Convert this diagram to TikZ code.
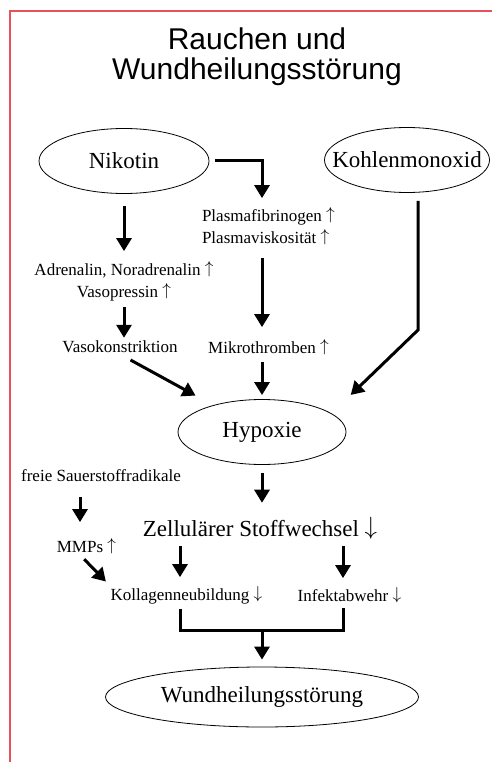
\documentclass[tikz,border=0pt]{standalone}
\usepackage{fontspec}
\setmainfont{Liberation Serif}
\newfontfamily\titlefont{Liberation Sans}
\usetikzlibrary{shapes, arrows.meta, positioning}
\definecolor{framered}{RGB}{232,80,90}
\newcommand{\pfeilauf}{\raisebox{0.1em}{$\uparrow$}}
\newcommand{\pfeilab}{\raisebox{0.1em}{$\downarrow$}}
\newcommand{\hoch}{\rlap{~\pfeilauf}}
\newcommand{\runter}{\rlap{~\pfeilab}}

\begin{document}
\begin{tikzpicture}[x=1pt, y=-1pt, >={Triangle[width=15pt, length=13pt]}]

\tikzstyle{oval} = [draw, shape=ellipse, line width=0.8pt, inner sep=0pt, minimum height=65pt, font=\fontsize{23}{27}\selectfont]
\tikzstyle{txt} = [inner sep=1pt, font=\fontsize{17}{22}\selectfont]
\tikzstyle{flow} = [->, line width=3pt]

\useasboundingbox (0,0) rectangle (492,762);
\draw[framered, line width=1.5pt] (10,762) -- (10,11) -- (492,11);

%Title
\node[align=center, font=\titlefont\fontsize{30}{30}\selectfont] (title) at (257,57) {Rauchen und\\Wundheilungsstörung};

%Creating Ovals and Text Nodes
\node[oval, minimum width=170pt] (nik) at (124,161) {Nikotin};
\node[oval, minimum width=165pt] (co) at (407,160) {\makebox[0pt]{Kohlenmonoxid}};
\node[oval, minimum width=168pt] (hyp) at (262,432) {Hypoxie};
\node[oval, minimum width=313pt, minimum height=60pt] (wund) at (262,697) {Wundheilungsstörung};

\node[txt, align=left] (plas) at (hyp |- 0,226) {Plasmafibrinogen\hoch\\Plasmaviskosität\hoch};
\node[txt, align=center] (adr) at (nik |- 0,281) {Adrenalin, Noradrenalin \pfeilauf\\Vasopressin \pfeilauf};
\node[txt] (vaso) at (120,347) {Vasokonstriktion};
\node[txt] (mikro) at (hyp |- 0,347) {Mikrothromben\hoch};
\node[txt, font=\fontsize{23}{27}\selectfont] (zell) at (260,528) {Zellulärer Stoffwechsel \pfeilab};
\node[txt] (frei) at (101,476) {freie Sauerstoffradikale};
\node[txt] (mmp) at (80,546) {MMPs\hoch};
\node[txt] (koll) at (180,595) {Kollagenneubildung\runter};
\node[txt] (inf) at (343,595) {Infektabwehr\runter};
\coordinate (cobend) at (418,330);
\coordinate (join) at (hyp |- 0,630);

%Connecting Nodes
\draw[flow, shorten <=12pt, shorten >=9pt] (nik) -- (nik |- adr.north);
\draw[flow, shorten <=6pt, shorten >=8pt] (nik.east) -| (plas.north);
\draw[flow, shorten <=12pt, shorten >=11pt] (plas.south) -- (mikro.north);
\draw[flow, shorten <=5pt, shorten >=2pt] (adr.south) -- (adr.south |- vaso.north);
\draw[flow, shorten <=12pt, shorten >=20pt] (vaso.south) -- (hyp);
\draw[flow, shorten <=6pt, shorten >=4pt] (mikro) -- (hyp);
\draw[flow, shorten <=8pt, shorten >=6pt] (co.south -| cobend) -- (cobend) -- (hyp.east |- hyp.north);
\draw[flow, shorten <=8pt, shorten >=13pt] (hyp) -- (hyp |- zell.north);
\draw[flow, shorten <=14pt, shorten >=15pt] (mmp |- frei.south) -- (mmp.north);
\draw[flow, shorten <=6pt, shorten >=5pt] (mmp.south) -- (koll.north west);
\draw[flow, shorten <=6pt, shorten >=8pt] (koll |- zell.south) -- (koll);
\draw[flow, shorten <=6pt, shorten >=8pt] (inf |- zell.south) -- (inf);
\draw[line width=3pt, shorten <=4pt, shorten >=4pt] (koll.south) |- (join) -| (inf.south);
\draw[flow, shorten >=7pt] (join) -- (wund);
\end{tikzpicture}
\end{document}
